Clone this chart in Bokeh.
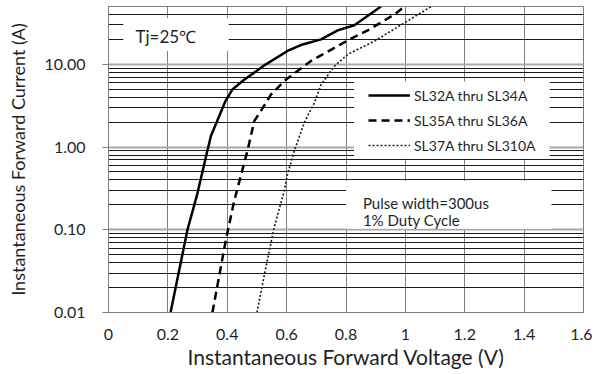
from bokeh.plotting import figure
from bokeh.models import (FixedTicker, CustomJSTickFormatter, Legend, LegendItem,
                          BoxAnnotation, Label, Range1d)
from bokeh.embed import file_html
from bokeh.resources import INLINE

# ---- data (V, A) ----
v_sl32_34 = [0.209, 0.266, 0.299, 0.333, 0.345, 0.394, 0.418, 0.457, 0.530, 0.603, 0.648, 0.716, 0.772, 0.828, 0.918]
i_sl32_34 = [0.01, 0.1, 0.27, 0.9, 1.36, 3.6, 5.0, 6.5, 10.0, 14.5, 17.1, 20.0, 25.7, 29.7, 50.0]

v_sl35_36 = [0.350, 0.395, 0.423, 0.468, 0.491, 0.530, 0.547, 0.597, 0.682, 0.761, 0.806, 0.873, 0.963, 0.997]
i_sl35_36 = [0.01, 0.074, 0.22, 0.9, 2.06, 3.4, 4.3, 6.5, 11.0, 15.8, 19.5, 25.7, 40.0, 50.0]

v_sl37_310 = [0.500, 0.530, 0.558, 0.592, 0.603, 0.626, 0.659, 0.693, 0.716, 0.761, 0.806, 0.896, 0.986, 1.087]
i_sl37_310 = [0.01, 0.035, 0.107, 0.295, 0.47, 0.9, 1.96, 3.4, 5.7, 9.5, 13.2, 19.1, 30.0, 50.0]

series_labels = ["SL32A thru SL34A", "SL35A thru SL36A", "SL37A thru SL310A"]

x_ticks = [0, 0.2, 0.4, 0.6, 0.8, 1.0, 1.2, 1.4, 1.6]
y_major_ticks = [0.01, 0.1, 1, 10]
y_minor_ticks = [0.02, 0.03, 0.04, 0.05, 0.06, 0.07, 0.08, 0.09,
                 0.2, 0.3, 0.4, 0.5, 0.6, 0.7, 0.8, 0.9,
                 2, 3, 4, 5, 6, 7, 8, 9,
                 20, 30, 40]

FONT = "Lato"
TXT = "#1f1f2a"

p = figure(width=592, height=372, output_backend="svg", toolbar_location=None,
           x_range=Range1d(0, 1.6), y_range=Range1d(0.01, 50), y_axis_type="log",
           min_border_left=108, min_border_right=9, min_border_top=6, min_border_bottom=60)

p.outline_line_color = "#7f7f7f"
p.outline_line_width = 1
p.background_fill_color = "white"
p.border_fill_color = "white"

# axes
p.xaxis.ticker = FixedTicker(ticks=x_ticks)
p.xaxis.formatter = CustomJSTickFormatter(code="return String(Math.round(tick*10)/10);")
p.xaxis.major_tick_out = 0
p.xaxis.major_tick_in = 0
p.xaxis.minor_tick_out = 0
p.xaxis.minor_tick_in = 0
p.xaxis.axis_line_color = "#7f7f7f"
p.xaxis.major_label_standoff = 16
p.xaxis.major_label_text_font = FONT
p.xaxis.major_label_text_font_size = "16px"
p.xaxis.major_label_text_color = TXT
p.xaxis.axis_label = "Instantaneous Forward Voltage (V)"
p.xaxis.axis_label_text_font = FONT
p.xaxis.axis_label_text_font_size = "21px"
p.xaxis.axis_label_text_font_style = "normal"
p.xaxis.axis_label_text_color = TXT
p.xaxis.axis_label_standoff = 1

p.yaxis.ticker = FixedTicker(ticks=y_major_ticks, minor_ticks=y_minor_ticks)
p.yaxis.formatter = CustomJSTickFormatter(code="return tick.toFixed(2);")
p.yaxis.major_tick_out = 6
p.yaxis.major_tick_in = 0
p.yaxis.minor_tick_out = 0
p.yaxis.minor_tick_in = 0
p.yaxis.major_tick_line_color = "#7f7f7f"
p.yaxis.axis_line_color = "#7f7f7f"
p.yaxis.major_label_standoff = 17
p.yaxis.major_label_text_font = FONT
p.yaxis.major_label_text_font_size = "16px"
p.yaxis.major_label_text_color = TXT
p.yaxis.axis_label = "Instantaneous Forward Current (A)"
p.yaxis.axis_label_text_font = FONT
p.yaxis.axis_label_text_font_size = "18px"
p.yaxis.axis_label_text_font_style = "normal"
p.yaxis.axis_label_text_color = TXT
p.yaxis.axis_label_standoff = 13

# grids
p.xgrid.ticker = FixedTicker(ticks=x_ticks)
p.xgrid.grid_line_color = "#7f7f7f"
p.xgrid.grid_line_width = 1
p.ygrid.ticker = FixedTicker(ticks=y_major_ticks, minor_ticks=y_minor_ticks)
p.ygrid.grid_line_color = "#a8a8a8"
p.ygrid.grid_line_width = 2
p.ygrid.minor_grid_line_color = "#1a1a1a"
p.ygrid.minor_grid_line_width = 1

# curves
r1 = p.line(v_sl32_34, i_sl32_34, line_color="black", line_width=2.5)
r2 = p.line(v_sl35_36, i_sl35_36, line_color="black", line_width=2.5, line_dash="8 5")
r3 = p.line(v_sl37_310, i_sl37_310, line_color="#222222", line_width=1.7, line_dash="2 2")

# white annotation panels
for (l, r, b, t) in [(0.05, 0.405, 14.5, 36.0), (0.827, 1.486, 0.72, 6.2), (0.80, 1.492, 0.103, 0.39)]:
    p.add_layout(BoxAnnotation(left=l, right=r, bottom=b, top=t, fill_color="white",
                               fill_alpha=1.0, line_alpha=0, level="underlay"))

legend = Legend(items=[LegendItem(label=series_labels[0], renderers=[r1]),
                       LegendItem(label=series_labels[1], renderers=[r2]),
                       LegendItem(label=series_labels[2], renderers=[r3])],
                location=(260, 157), background_fill_alpha=0, border_line_alpha=0,
                glyph_width=42, glyph_height=20, label_height=20, spacing=5, padding=0,
                margin=0, label_standoff=4, label_text_font=FONT,
                label_text_font_size="14px", label_text_color=TXT)
p.add_layout(legend)

p.add_layout(Label(x=0.091, y=21.9, text="Tj=25℃", text_font=FONT, text_font_size="17px",
                   text_color=TXT, text_baseline="middle"))
p.add_layout(Label(x=0.857, y=0.211, text="Pulse width=300us", text_font=FONT,
                   text_font_size="15px", text_color=TXT, text_baseline="middle"))
p.add_layout(Label(x=0.857, y=0.132, text="1% Duty  Cycle", text_font=FONT,
                   text_font_size="15px", text_color=TXT, text_baseline="middle"))

open("out.html", "w").write(file_html(p, INLINE))
